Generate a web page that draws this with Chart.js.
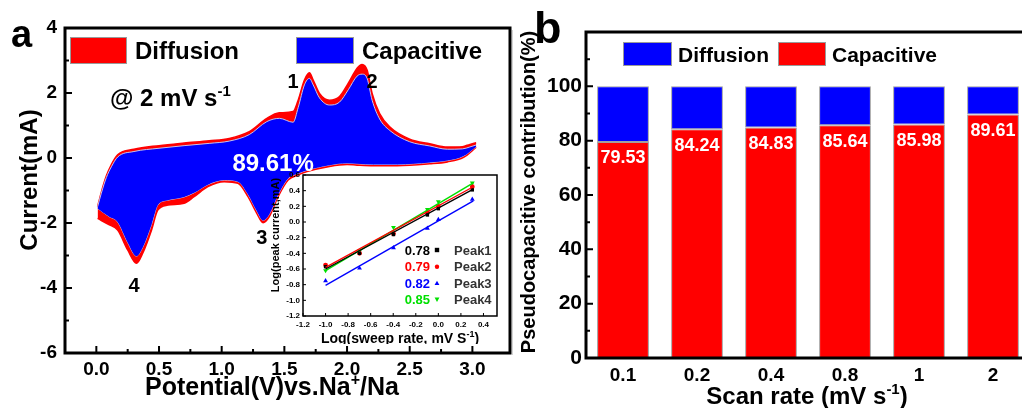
<!DOCTYPE html>
<html><head><meta charset="utf-8">
<script src="https://cdn.jsdelivr.net/npm/chart.js@4.4.1/dist/chart.umd.min.js"></script>
<style>
html,body{margin:0;padding:0;background:#fff;width:1022px;height:408px;overflow:hidden;}
#wrap{position:relative;width:1022px;height:408px;overflow:hidden;background:#fff;}
canvas{position:absolute;}
</style></head><body>
<div id="wrap">
<canvas id="cA" width="520" height="408" style="left:0;top:0;width:520px;height:408px"></canvas>
<canvas id="cI" width="250" height="184" style="left:260px;top:160px;width:250px;height:184px"></canvas>
<canvas id="cB" width="520" height="408" style="left:510px;top:0;width:520px;height:408px"></canvas>
</div>
<script>
// ---------------- Panel a: CV curve at 2 mV/s ----------------
const upperX        = [0.01, 0.04, 0.08, 0.12, 0.17, 0.30, 0.50, 0.70, 0.90, 1.06, 1.22, 1.36, 1.46, 1.57, 1.61, 1.66, 1.70, 1.73, 1.78, 1.86, 1.94, 2.01, 2.08, 2.12, 2.16, 2.20, 2.26, 2.34, 2.50, 2.66, 2.80, 2.92, 2.98, 3.03];
const totalUpperY   = [-1.50, -1.05, -0.55, -0.20, 0.10, 0.27, 0.38, 0.46, 0.53, 0.60, 0.81, 1.22, 1.39, 1.43, 1.78, 2.40, 2.62, 2.40, 1.99, 1.78, 1.89, 2.30, 2.76, 2.88, 2.71, 1.99, 1.37, 0.96, 0.58, 0.44, 0.34, 0.35, 0.42, 0.47];
const capUpperY     = [-1.50, -1.08, -0.60, -0.27, 0.03, 0.20, 0.30, 0.38, 0.45, 0.52, 0.72, 1.12, 1.22, 1.10, 1.55, 2.25, 2.45, 2.25, 1.85, 1.63, 1.72, 2.10, 2.52, 2.58, 2.45, 1.78, 1.20, 0.85, 0.50, 0.37, 0.27, 0.28, 0.34, 0.40];
const lowerX        = [0.01, 0.10, 0.17, 0.25, 0.32, 0.37, 0.44, 0.49, 0.57, 0.70, 0.78, 0.89, 1.02, 1.13, 1.21, 1.28, 1.33, 1.38, 1.45, 1.53, 1.61, 1.68, 1.86, 2.00, 2.08, 2.21, 2.40, 2.66, 2.80, 2.93, 3.03];
const totalLowerY   = [-1.86, -2.05, -2.22, -2.83, -3.24, -2.93, -2.22, -1.60, -1.45, -1.39, -1.19, -0.88, -0.73, -0.78, -1.19, -1.70, -1.99, -1.80, -1.19, -0.68, -0.52, -0.42, -0.26, -0.20, -0.22, -0.24, -0.24, -0.18, -0.12, 0.02, 0.33];
const capLowerY     = [-1.55, -1.80, -1.97, -2.60, -3.02, -2.75, -2.05, -1.45, -1.30, -1.20, -1.07, -0.82, -0.68, -0.73, -1.12, -1.63, -1.92, -1.73, -1.13, -0.63, -0.48, -0.38, -0.22, -0.16, -0.18, -0.20, -0.20, -0.14, -0.08, 0.06, 0.35];
const potentialTicks = [0.0, 0.5, 1.0, 1.5, 2.0, 2.5, 3.0];
const currentTicks   = [-6, -4, -2, 0, 2, 4];

// ---------------- Inset: log(i) vs log(v) ----------------
const logRate = [-1.0, -0.699, -0.398, -0.097, 0.0, 0.301];
const peak1Log = [-0.57, -0.40, -0.16, 0.09, 0.17, 0.41];
const peak2Log = [-0.55, -0.40, -0.15, 0.12, 0.20, 0.45];
const peak3Log = [-0.75, -0.59, -0.33, -0.08, 0.03, 0.29];
const peak4Log = [-0.62, -0.37, -0.07, 0.16, 0.26, 0.50];
const fitX    = [-1.0, 0.31];
const fit1Y   = [-0.60, 0.42];
const fit2Y   = [-0.58, 0.45];
const fit3Y   = [-0.81, 0.27];
const fit4Y   = [-0.62, 0.50];
const bValues = ['0.78', '0.79', '0.82', '0.85'];
const peakNames = ['Peak1', 'Peak2', 'Peak3', 'Peak4'];
const logRateTicks = [-1.2, -1.0, -0.8, -0.6, -0.4, -0.2, 0.0, 0.2, 0.4];
const logCurrentTicks = [-1.2, -1.0, -0.8, -0.6, -0.4, -0.2, 0.0, 0.2, 0.4, 0.6];

// ---------------- Panel b: contributions ----------------
const scanRates     = ['0.1', '0.2', '0.4', '0.8', '1', '2'];
const capacitivePct = [79.53, 84.24, 84.83, 85.64, 85.98, 89.61];
const diffusionPct  = [20.47, 15.76, 15.17, 14.36, 14.02, 10.39];
const pctTicks      = [0, 20, 40, 60, 80, 100];

// ---------------- helpers ----------------
const FONT = "'Liberation Sans', Arial, Helvetica, sans-serif";
Chart.defaults.font.family = FONT;
Chart.defaults.font.weight = 'bold';
Chart.defaults.color = '#000';
const RED = '#FF0000', BLUE = '#0000FF', GREEN = '#00E000';

function rich(ctx, parts, x, y, size, align, color) {
  ctx.save();
  ctx.fillStyle = color || '#000';
  ctx.textBaseline = 'alphabetic';
  ctx.textAlign = 'left';
  const fN = 'bold ' + size + 'px ' + FONT;
  const fS = 'bold ' + Math.round(size * 0.62) + 'px ' + FONT;
  let w = 0;
  const ws = parts.map(p => { ctx.font = p[1] ? fS : fN; const m = ctx.measureText(p[0]).width; w += m; return m; });
  let sx = align === 'center' ? x - w / 2 : (align === 'right' ? x - w : x);
  parts.forEach((p, i) => { ctx.font = p[1] ? fS : fN; ctx.fillText(p[0], sx, p[1] ? y - size * 0.4 : y); sx += ws[i]; });
  ctx.restore();
}
function richRot(ctx, parts, cx, cy, size) {
  ctx.save();
  ctx.translate(cx, cy);
  ctx.rotate(-Math.PI / 2);
  rich(ctx, parts, 0, size * 0.36, size, 'center');
  ctx.restore();
}
function inTicks(ctx, scale, area, values, len, lw) {
  ctx.save();
  ctx.strokeStyle = '#000';
  ctx.lineWidth = lw;
  ctx.beginPath();
  values.forEach(v => {
    const p = scale.getPixelForValue(v);
    if (scale.isHorizontal()) { ctx.moveTo(p, area.bottom); ctx.lineTo(p, area.bottom - len); }
    else { ctx.moveTo(area.left, p); ctx.lineTo(area.left + len, p); }
  });
  ctx.stroke();
  ctx.restore();
}
function mids(arr) { const r = []; for (let i = 0; i < arr.length - 1; i++) r.push((arr[i] + arr[i + 1]) / 2); return r; }
const mk = (xs, ys) => xs.map((x, i) => ({ x: x, y: ys[i] }));
function swatch(ctx, x, y, w, h, color) {
  ctx.save(); ctx.fillStyle = color; ctx.fillRect(x, y, w, h);
  ctx.strokeStyle = '#9a9a9a'; ctx.lineWidth = 1; ctx.strokeRect(x + 0.5, y + 0.5, w - 1, h - 1); ctx.restore();
}
function textMid(ctx, t, x, cy, size, align, color) {
  ctx.save(); ctx.font = 'bold ' + size + 'px ' + FONT; ctx.fillStyle = color || '#000';
  ctx.textAlign = align || 'left'; ctx.textBaseline = 'alphabetic';
  ctx.fillText(t, x, cy + size * 0.36); ctx.restore();
}

// ---------------- Chart A ----------------
const panelAPlugin = {
  id: 'panelA',
  afterDraw(chart) {
    const ctx = chart.ctx, a = chart.chartArea, sx = chart.scales.x, sy = chart.scales.y;
    ctx.save();
    ctx.strokeStyle = '#000'; ctx.lineWidth = 3;
    ctx.strokeRect(a.left, a.top, a.right - a.left, a.bottom - a.top);
    ctx.restore();
    inTicks(ctx, sx, a, potentialTicks, 7, 2);
    inTicks(ctx, sx, a, mids(potentialTicks), 4, 2);
    inTicks(ctx, sy, a, currentTicks, 7, 2);
    inTicks(ctx, sy, a, mids(currentTicks), 4, 2);
    // legend
    swatch(ctx, 70, 37, 57, 27, RED);
    textMid(ctx, 'Diffusion', 135, 50, 24);
    swatch(ctx, 296, 37, 58, 27, BLUE);
    textMid(ctx, 'Capacitive', 362, 50, 24);
    // annotations
    rich(ctx, [['@ 2 mV s', 0], ['-1', 1]], 110, 97 + 24 * 0.36, 24, 'left');
    textMid(ctx, capacitivePct[capacitivePct.length - 1].toFixed(2) + '%', sx.getPixelForValue(1.41), sy.getPixelForValue(-0.14), 24, 'center', '#fff');
    textMid(ctx, '1', sx.getPixelForValue(1.57), sy.getPixelForValue(2.37), 20, 'center');
    textMid(ctx, '2', sx.getPixelForValue(2.20), sy.getPixelForValue(2.37), 20, 'center');
    textMid(ctx, '3', sx.getPixelForValue(1.32), sy.getPixelForValue(-2.43), 20, 'center');
    textMid(ctx, '4', sx.getPixelForValue(0.30), sy.getPixelForValue(-3.90), 20, 'center');
    // titles
    rich(ctx, [['Potential(V)vs.Na', 0], ['+', 1], ['/Na', 0]], 272, 386 + 25 * 0.36, 25, 'center');
    richRot(ctx, [['Current(mA)', 0]], 28, 180, 24);
    // panel letter
    ctx.save(); ctx.font = 'bold 38px ' + FONT; ctx.fillStyle = '#000'; ctx.textBaseline = 'alphabetic';
    ctx.fillText('a', 11, 47); ctx.restore();
  }
};
new Chart(document.getElementById('cA'), {
  type: 'line',
  data: { datasets: [
    { label: 'Capacitive', data: mk(upperX, capUpperY), borderColor: '#c4c4ee', borderWidth: 1, backgroundColor: BLUE, fill: 1, pointRadius: 0, cubicInterpolationMode: 'monotone' },
    { label: 'Capacitive (cathodic)', data: mk(lowerX, capLowerY), borderColor: '#c4c4ee', borderWidth: 1, fill: false, pointRadius: 0, cubicInterpolationMode: 'monotone' },
    { label: 'Diffusion', data: mk(upperX, totalUpperY), borderColor: RED, borderWidth: 1.5, backgroundColor: RED, fill: 3, pointRadius: 0, cubicInterpolationMode: 'monotone' },
    { label: 'Total (cathodic)', data: mk(lowerX, totalLowerY), borderColor: RED, borderWidth: 1.5, fill: false, pointRadius: 0, cubicInterpolationMode: 'monotone' }
  ]},
  options: {
    responsive: false, animation: false, devicePixelRatio: 1,
    layout: { padding: { left: 0, top: 28, right: 10, bottom: 0 } },
    plugins: { legend: { display: false }, tooltip: { enabled: false } },
    scales: {
      x: { type: 'linear', min: -0.25, max: 3.3,
        grid: { display: false, drawTicks: false }, border: { display: false },
        afterBuildTicks: s => { s.ticks = potentialTicks.map(v => ({ value: v })); },
        ticks: { font: { size: 19, weight: 'bold' }, color: '#000', padding: 5, maxRotation: 0, autoSkip: false, callback: v => Number(v).toFixed(1) },
        afterFit: s => { s.height = 55; } },
      y: { type: 'linear', min: -6, max: 4,
        grid: { display: false, drawTicks: false }, border: { display: false },
        afterBuildTicks: s => { s.ticks = currentTicks.map(v => ({ value: v })); },
        ticks: { font: { size: 19, weight: 'bold' }, color: '#000', padding: 8, autoSkip: false, callback: v => String(v) },
        afterFit: s => { s.width = 65; } }
    }
  },
  plugins: [panelAPlugin]
});

// ---------------- Inset ----------------
const markerStyles = [
  { c: '#000', shape: 'square' }, { c: RED, shape: 'circle' }, { c: BLUE, shape: 'tri' }, { c: GREEN, shape: 'dtri' }
];
function marker(ctx, shape, x, y, r, c) {
  ctx.save(); ctx.fillStyle = c; ctx.beginPath();
  if (shape === 'square') ctx.rect(x - r, y - r, 2 * r, 2 * r);
  else if (shape === 'circle') ctx.arc(x, y, r, 0, Math.PI * 2);
  else if (shape === 'tri') { ctx.moveTo(x, y - r * 1.2); ctx.lineTo(x + r * 1.1, y + r * 0.8); ctx.lineTo(x - r * 1.1, y + r * 0.8); ctx.closePath(); }
  else { ctx.moveTo(x, y + r * 1.2); ctx.lineTo(x + r * 1.1, y - r * 0.8); ctx.lineTo(x - r * 1.1, y - r * 0.8); ctx.closePath(); }
  ctx.fill(); ctx.restore();
}
const insetPlugin = {
  id: 'inset',
  beforeDraw(chart) {
    const ctx = chart.ctx, a = chart.chartArea;
    ctx.save(); ctx.fillStyle = '#fff'; ctx.fillRect(a.left, a.top, a.right - a.left, a.bottom - a.top); ctx.restore();
  },
  afterDraw(chart) {
    const ctx = chart.ctx, a = chart.chartArea, sx = chart.scales.x, sy = chart.scales.y;
    ctx.save(); ctx.strokeStyle = '#000'; ctx.lineWidth = 1.5;
    ctx.strokeRect(a.left, a.top, a.right - a.left, a.bottom - a.top); ctx.restore();
    inTicks(ctx, sx, a, logRateTicks, 3, 1);
    inTicks(ctx, sy, a, logCurrentTicks, 3, 1);
    const rows = [250, 266.7, 283.3, 299.3];
    const cols = ['#000', RED, BLUE, GREEN];
    rows.forEach((ry, i) => {
      const y = ry - 160;
      textMid(ctx, bValues[i], 430 - 260, y, 13, 'right', cols[i]);
      marker(ctx, markerStyles[i].shape, 437 - 260, y, 2.2, markerStyles[i].c);
      textMid(ctx, peakNames[i], 454 - 260, y, 13, 'left', '#333');
    });
    richRot(ctx, [['Log(peak current,mA)', 0]], 15, 75, 11);
    rich(ctx, [['Log(sweep rate, mV S', 0], ['-1', 1], [')', 0]], 140, 183, 14, 'center');
  }
};
const fitStyle = (c) => ({ borderColor: c, borderWidth: 1.4, pointRadius: 0, fill: false });
new Chart(document.getElementById('cI'), {
  type: 'line',
  data: { datasets: [
    Object.assign({ label: 'fit1', data: mk(fitX, fit1Y) }, fitStyle('#000')),
    Object.assign({ label: 'fit2', data: mk(fitX, fit2Y) }, fitStyle(RED)),
    Object.assign({ label: 'fit3', data: mk(fitX, fit3Y) }, fitStyle(BLUE)),
    Object.assign({ label: 'fit4', data: mk(fitX, fit4Y) }, fitStyle(GREEN)),
    { label: 'Peak1', data: mk(logRate, peak1Log), showLine: false, pointStyle: 'rect', pointRadius: 2.4, backgroundColor: '#000', borderColor: '#000', borderWidth: 0 },
    { label: 'Peak2', data: mk(logRate, peak2Log), showLine: false, pointStyle: 'circle', pointRadius: 2.4, backgroundColor: RED, borderColor: RED, borderWidth: 0 },
    { label: 'Peak3', data: mk(logRate, peak3Log), showLine: false, pointStyle: 'triangle', pointRadius: 2.8, backgroundColor: BLUE, borderColor: BLUE, borderWidth: 0 },
    { label: 'Peak4', data: mk(logRate, peak4Log), showLine: false, pointStyle: 'triangle', rotation: 180, pointRadius: 2.8, backgroundColor: GREEN, borderColor: GREEN, borderWidth: 0 }
  ]},
  options: {
    responsive: false, animation: false, devicePixelRatio: 1,
    layout: { padding: { left: 0, top: 15, right: 13, bottom: 0 } },
    plugins: { legend: { display: false }, tooltip: { enabled: false } },
    scales: {
      x: { type: 'linear', min: -1.2, max: 0.52,
        grid: { display: false, drawTicks: false }, border: { display: false },
        afterBuildTicks: s => { s.ticks = logRateTicks.map(v => ({ value: v })); },
        ticks: { font: { size: 8, weight: 'bold' }, color: '#000', padding: 4, maxRotation: 0, autoSkip: false, callback: v => Number(v).toFixed(1) },
        afterFit: s => { s.height = 28; } },
      y: { type: 'linear', min: -1.2, max: 0.6,
        grid: { display: false, drawTicks: false }, border: { display: false },
        afterBuildTicks: s => { s.ticks = logCurrentTicks.map(v => ({ value: v })); },
        ticks: { font: { size: 8, weight: 'bold' }, color: '#000', padding: 3, autoSkip: false, callback: v => Number(v).toFixed(1) },
        afterFit: s => { s.width = 43; } }
    }
  },
  plugins: [insetPlugin]
});

// ---------------- Chart B ----------------
const panelBPlugin = {
  id: 'panelB',
  afterDatasetsDraw(chart) {
    const ctx = chart.ctx, meta = chart.getDatasetMeta(0);
    meta.data.forEach((bar, i) => {
      textMid(ctx, capacitivePct[i].toFixed(2), bar.x, bar.y + 15, 18, 'center', '#fff');
    });
  },
  afterDraw(chart) {
    const ctx = chart.ctx, a = chart.chartArea, sy = chart.scales.y;
    ctx.save(); ctx.strokeStyle = '#000'; ctx.lineWidth = 3;
    ctx.strokeRect(a.left, a.top, a.right - a.left, a.bottom - a.top); ctx.restore();
    inTicks(ctx, sy, a, pctTicks, 7, 2);
    inTicks(ctx, sy, a, mids(pctTicks).concat([110]), 4, 2);
    // faint panel edge
    ctx.save(); ctx.strokeStyle = '#d4d4d4'; ctx.lineWidth = 1; ctx.beginPath(); ctx.moveTo(2.5, 30); ctx.lineTo(2.5, 355); ctx.stroke(); ctx.restore();
    // legend
    swatch(ctx, 113, 42, 49, 24, BLUE);
    textMid(ctx, 'Diffusion', 168, 54, 21);
    swatch(ctx, 268, 42, 48, 24, RED);
    textMid(ctx, 'Capacitive', 322, 54, 21);
    // titles
    rich(ctx, [['Scan rate (mV s', 0], ['-1', 1], [')', 0]], 297, 395 + 24 * 0.36, 24, 'center');
    richRot(ctx, [['Pseudocapacitive contribution(%)', 0]], 18, 192, 20);
    ctx.save(); ctx.font = 'bold 45px ' + FONT; ctx.fillStyle = '#000'; ctx.textBaseline = 'alphabetic';
    ctx.fillText('b', 24, 43); ctx.restore();
  }
};
new Chart(document.getElementById('cB'), {
  type: 'bar',
  data: { labels: scanRates, datasets: [
    { label: 'Capacitive', data: capacitivePct, backgroundColor: RED, borderColor: '#a0a0a0', borderWidth: 1, borderSkipped: false },
    { label: 'Diffusion', data: diffusionPct, backgroundColor: BLUE, borderColor: '#a0a0a0', borderWidth: 1, borderSkipped: false }
  ]},
  options: {
    responsive: false, animation: false, devicePixelRatio: 1,
    datasets: { bar: { barPercentage: 0.7, categoryPercentage: 1.0 } },
    layout: { padding: { left: 0, top: 32, right: 0, bottom: 0 } },
    plugins: { legend: { display: false }, tooltip: { enabled: false } },
    scales: {
      x: { stacked: true, grid: { display: false, drawTicks: false }, border: { display: false },
        ticks: { font: { size: 19, weight: 'bold' }, color: '#000', padding: 6, maxRotation: 0 },
        afterFit: s => { s.height = 50; } },
      y: { stacked: true, min: 0, max: 120,
        grid: { display: false, drawTicks: false }, border: { display: false },
        afterBuildTicks: s => { s.ticks = pctTicks.map(v => ({ value: v })); },
        ticks: { font: { size: 21, weight: 'bold' }, color: '#000', padding: 4, autoSkip: false },
        afterFit: s => { s.width = 76; } }
    }
  },
  plugins: [panelBPlugin]
});
</script>
</body></html>
